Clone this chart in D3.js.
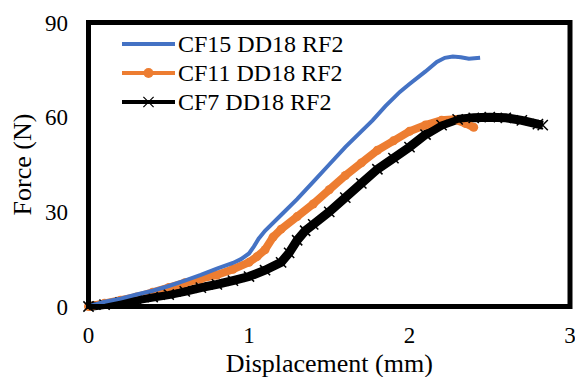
<!DOCTYPE html>
<html>
<head>
<meta charset="utf-8">
<script src="https://cdn.jsdelivr.net/npm/d3@7"></script>
<style>
  body { margin: 0; background: #fff; }
  text { font-family: "Liberation Serif", "Times New Roman", serif; fill: #000; }
</style>
</head>
<body>
<div id="chart"></div>
<script>
const W = 575, H = 377;

// displacement (mm) / force (N)
const cf15X = [0, 0.1, 0.2, 0.3, 0.4, 0.5, 0.6, 0.7, 0.8, 0.9, 0.95, 1.0, 1.03, 1.06, 1.1, 1.2, 1.3, 1.4, 1.5, 1.6, 1.7, 1.77, 1.85, 1.94, 2.0, 2.1, 2.17, 2.22, 2.27, 2.32, 2.37, 2.44];
const cf15Y = [0, 1.5, 2.5, 3.8, 5, 6.5, 8.2, 10, 12, 13.8, 15, 16.8, 19, 21.5, 24, 29, 34, 39.5, 45, 50.5, 55.5, 59, 63.5, 68, 70.5, 74.5, 77.5, 78.8, 79.2, 79, 78.5, 78.8];

const cf11X = [0, 0.1, 0.2, 0.3, 0.4, 0.5, 0.6, 0.7, 0.8, 0.9, 1.0, 1.05, 1.1, 1.15, 1.2, 1.3, 1.4, 1.5, 1.6, 1.7, 1.8, 1.9, 2.0, 2.1, 2.2, 2.28, 2.35, 2.4];
const cf11Y = [0, 1, 2, 3, 4.5, 6, 7.5, 8.8, 10, 11.8, 14, 15.8, 18, 22, 24.5, 28.5, 32.5, 37, 41.5, 45.5, 49.5, 52.5, 55.5, 57.5, 59, 59.3, 58, 56.8];

const cf7X = [0, 0.1, 0.2, 0.3, 0.4, 0.5, 0.6, 0.7, 0.8, 0.9, 1.0, 1.1, 1.2, 1.25, 1.3, 1.35, 1.4, 1.5, 1.6, 1.7, 1.8, 1.9, 2.0, 2.1, 2.2, 2.3, 2.4, 2.5, 2.6, 2.7, 2.8, 2.83];
const cf7Y = [0, 0.6, 1.3, 2.1, 3, 3.8, 4.8, 6, 7, 8.2, 9.5, 11.5, 14, 17, 21, 24, 26, 30, 34.5, 39, 43.5, 47, 50.5, 54.5, 57.5, 59.3, 59.8, 60, 59.8, 59, 57.8, 57.5];

const seriesNames = ["CF15 DD18 RF2", "CF11 DD18 RF2", "CF7 DD18 RF2"];
const seriesColors = ["#4472C4", "#ED7D31", "#000000"];
const xTicks = [0, 1, 2, 3];
const yTicks = [0, 30, 60, 90];

const svg = d3.select("#chart").append("svg")
  .attr("width", W)
  .attr("height", H);

const x = d3.scaleLinear().domain([0, 3]).range([88.5, 570]);
const y = d3.scaleLinear().domain([0, 90]).range([306.5, 22.5]);

const zip = (xs, ys) => xs.map((v, i) => [v, ys[i]]);
const line = d3.line().x(d => x(d[0])).y(d => y(d[1]));

// tick labels
svg.selectAll("text.xt")
  .data(xTicks)
  .enter().append("text")
  .attr("class", "xt")
  .attr("x", d => x(d))
  .attr("y", 343)
  .attr("text-anchor", "middle")
  .style("font-size", "23px")
  .text(d => d);

svg.selectAll("text.yt")
  .data(yTicks)
  .enter().append("text")
  .attr("class", "yt")
  .attr("x", 68)
  .attr("y", d => y(d) + 8)
  .attr("text-anchor", "end")
  .style("font-size", "23px")
  .text(d => d);

// axis titles
svg.append("text")
  .attr("x", (x(0) + x(3)) / 2)
  .attr("y", 372)
  .attr("text-anchor", "middle")
  .style("font-size", "26px")
  .text("Displacement (mm)");

svg.append("text")
  .attr("transform", "translate(31," + (y(45)) + ") rotate(-90)")
  .attr("text-anchor", "middle")
  .style("font-size", "26px")
  .text("Force (N)");

const plot = svg.append("g");

// black series: thick line with x markers
const cf7 = zip(cf7X, cf7Y);
plot.append("path")
  .datum(cf7)
  .attr("fill", "none")
  .attr("stroke", seriesColors[2])
  .attr("stroke-width", 9)
  .attr("d", line);

// orange series
const cf11 = zip(cf11X, cf11Y);
plot.append("path")
  .datum(cf11)
  .attr("fill", "none")
  .attr("stroke", seriesColors[1])
  .attr("stroke-width", 8)
  .attr("d", line);
plot.selectAll("circle.o")
  .data(cf11)
  .enter().append("circle")
  .attr("class", "o")
  .attr("cx", d => x(d[0]))
  .attr("cy", d => y(d[1]))
  .attr("r", 4.5)
  .attr("fill", seriesColors[1]);

// black markers on top of orange, like the dense point cloud
const cross = d3.symbol().type(d3.symbolX).size(70);
plot.selectAll("path.x")
  .data(cf7)
  .enter().append("path")
  .attr("class", "x")
  .attr("transform", d => "translate(" + x(d[0]) + "," + y(d[1]) + ")")
  .attr("d", cross)
  .attr("fill", "none")
  .attr("stroke", "#000")
  .attr("stroke-width", 1.5);
plot.append("path")
  .datum(cf7)
  .attr("fill", "none")
  .attr("stroke", seriesColors[2])
  .attr("stroke-width", 7)
  .attr("d", line);

// blue series
plot.append("path")
  .datum(zip(cf15X, cf15Y))
  .attr("fill", "none")
  .attr("stroke", seriesColors[0])
  .attr("stroke-width", 4)
  .attr("d", line);

// frame
svg.append("rect")
  .attr("x", x(0))
  .attr("y", y(90))
  .attr("width", x(3) - x(0))
  .attr("height", y(0) - y(90))
  .attr("fill", "none")
  .attr("stroke", "#000")
  .attr("stroke-width", 5);

// legend
const legend = svg.append("g");
const rows = legend.selectAll("g")
  .data(seriesNames)
  .enter().append("g")
  .attr("transform", (d, i) => "translate(0," + (44 + i * 29) + ")");

rows.append("line")
  .attr("x1", 122)
  .attr("x2", 175)
  .attr("stroke", (d, i) => seriesColors[i])
  .attr("stroke-width", 4);

rows.filter((d, i) => i === 1).append("circle")
  .attr("cx", 148.5)
  .attr("r", 5)
  .attr("fill", seriesColors[1]);

rows.filter((d, i) => i === 2).append("path")
  .attr("transform", "translate(148.5,0)")
  .attr("d", d3.symbol().type(d3.symbolX).size(70))
  .attr("fill", "none")
  .attr("stroke", "#000")
  .attr("stroke-width", 1.2);

rows.append("text")
  .attr("x", 178)
  .attr("y", 8)
  .style("font-size", "24px")
  .text(d => d);
</script>
</body>
</html>
